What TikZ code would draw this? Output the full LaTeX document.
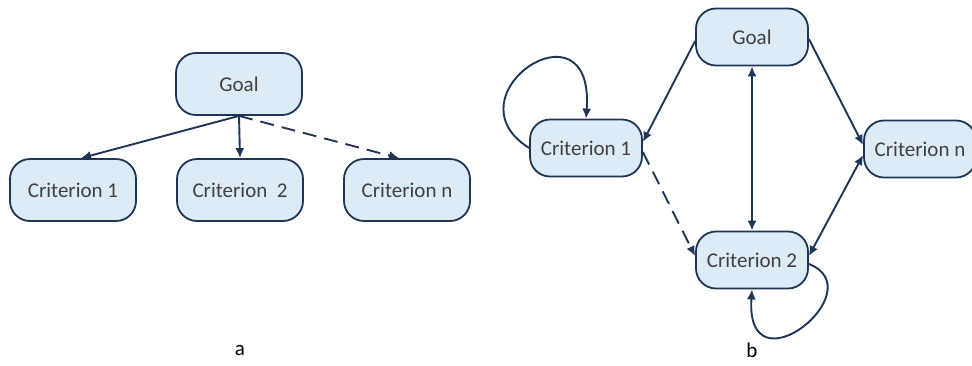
\documentclass[tikz,border=0pt]{standalone}
\usepackage{fontspec}
\setmainfont{Carlito}
\usetikzlibrary{positioning,arrows.meta}
\definecolor{boxfill}{HTML}{DDEBF7}
\definecolor{navy}{HTML}{1F3556}

\begin{document}
\begin{tikzpicture}[x=0.5pt,y=-0.5pt,
  crit/.style={draw=navy,fill=boxfill,line width=0.9pt,rounded corners=10pt,font=\fontsize{10.5}{12}\selectfont,text=black!75},
  big/.style={crit,minimum width=63pt,minimum height=31pt},
  small/.style={crit,minimum width=56pt,minimum height=28.5pt},
  link/.style={navy,line width=0.95pt,-{Latex[length=5pt,width=4.5pt]}},
  both/.style={link,{Latex[length=5pt,width=4.5pt]}-{Latex[length=5pt,width=4.5pt]}}]
  \useasboundingbox (0,0) rectangle (972,365);
  % a
  \node[big] (goalA) at (239,84) {Goal};
  \node[big] (critA1) at (73,190) {Criterion 1};
  \node[big] (critA2) at (240,190) {Criterion\ \ 2};
  \node[big] (critAn) at (407,190) {Criterion n};
  \draw[link] (goalA.south) -- ([xshift=4pt]critA1.north);
  \draw[link] (goalA.south) -- (critA2.north);
  \draw[link,dashed,dash pattern=on 7pt off 4pt] (goalA.south) -- ([xshift=-4pt]critAn.north);
  \node[font=\fontsize{10.5}{12}\selectfont] (labA) at (240,350) {a};
  % b
  \node[small] (goalB) at (752,37) {Goal};
  \node[small] (critB1) at (586,148) {Criterion 1};
  \node[small] (critB2) at (752,260) {Criterion 2};
  \node[small] (critBn) at (920,149) {Criterion n};
  \draw[link] ([yshift=-2pt]goalB.west) -- ([yshift=3pt]critB1.east);
  \draw[link] ([yshift=-1pt]goalB.east) -- ([yshift=2pt]critBn.west);
  \draw[both] (goalB.south) -- (critB2.north);
  \draw[both] ([yshift=-3pt]critBn.west) -- ([yshift=2pt]critB2.east);
  \draw[link,dashed,dash pattern=on 7pt off 4pt] ([yshift=-2pt]critB1.east) -- ([yshift=2pt]critB2.west);
  \draw[link] (critB1.west) .. controls (445,95) and (595,-5) .. (critB1.north);
  \draw[link] ([yshift=-2pt]critB2.east) .. controls (875,290) and (745,395) .. (critB2.south);
  \node[font=\fontsize{10.5}{12}\selectfont] (labB) at (752,350) {b};
\end{tikzpicture}
\end{document}
